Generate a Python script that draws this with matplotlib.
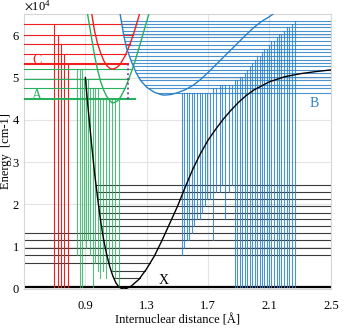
import numpy as np
import matplotlib.pyplot as plt

plt.rcParams['font.family'] = ['Liberation Serif', 'DejaVu Serif']
plt.rcParams['mathtext.fontset'] = 'stix'

# potential curves (r in Angstrom, E in cm-1)
x_r = [0.90, 0.92, 0.94, 0.96, 0.98, 1.00, 1.02, 1.04, 1.06, 1.08, 1.10, 1.12, 1.14, 1.15,
       1.17, 1.20, 1.25, 1.30, 1.35, 1.40, 1.45, 1.50, 1.55, 1.60, 1.65, 1.70, 1.75, 1.80,
       1.85, 1.90, 1.95, 2.00, 2.10, 2.20, 2.30, 2.40, 2.50]
x_E = [50000, 42000, 34500, 27500, 21500, 16000, 11500, 8000, 5200, 3000, 1400, 450, 50, 0,
       150, 700, 2300, 4800, 7800, 11500, 15500, 19500, 24000, 28300, 32000, 35200, 37800, 40200,
       42300, 44200, 45800, 47100, 49000, 50200, 50900, 51400, 51800]

a_r = [0.910, 0.94, 0.96, 0.98, 1.00, 1.02, 1.04, 1.06, 1.075, 1.09, 1.11, 1.13, 1.16, 1.19,
       1.22, 1.25, 1.28, 1.31, 1.32]
a_E = [66000, 59500, 55200, 51800, 49000, 47000, 45500, 44500, 44000, 44100, 44500, 45400,
       47500, 50300, 53400, 57000, 60800, 64500, 65800]

c_r = [0.940, 0.96, 0.98, 1.00, 1.02, 1.04, 1.06, 1.075, 1.09, 1.11, 1.13, 1.16, 1.19, 1.22,
       1.245, 1.255]
c_E = [65500, 61000, 58000, 55800, 54000, 52800, 52150, 52000, 52100, 52500, 53300, 55200,
       57800, 61000, 64000, 65300]

b_r = [1.12, 1.13, 1.15, 1.17, 1.20, 1.23, 1.26, 1.30, 1.35, 1.40, 1.42, 1.46, 1.50, 1.55,
       1.60, 1.65, 1.70, 1.75, 1.80, 1.85, 1.90, 1.95, 2.00, 2.05, 2.10, 2.13]
b_E = [66500, 64300, 60000, 56800, 53800, 51200, 49300, 47700, 46500, 45900, 45850, 46000,
       46400, 47100, 48100, 49500, 51200, 53000, 54800, 56600, 58400, 60200, 61900, 63300,
       64400, 65200]

# vibrational levels
x_levels = [540, 2530, 4320, 6210, 8030, 9800, 11500, 13350, 15000, 16580, 18070, 19660,
            21190, 22840, 24570]
x_span = ['full', 'well', 'well', 'left', 'full', 'full', 'full', 'full',
          'right', 'right', 'right', 'right', 'right', 'right', 'right']
a_levels = [44960, 47410, 49610, 51900]
c_levels = [53150, 55680, 58040, 60000, 62770]
b_levels = [46230, 47410, 48190, 49370, 50150, 50960, 51730, 52680, 53460, 54260, 55040,
            56060, 56860, 57810, 58660, 59600, 60410, 61020, 61970, 62770, 63380]

# transitions: r position, upper level index, lower X level index
c_drop_r = [0.787, 0.764, 0.741, 0.725, 0.699]
a_drop_r = [0.849, 0.863, 0.878, 0.889, 0.904, 0.917, 0.932, 0.947, 0.960, 0.980, 0.998,
            1.015, 1.037, 1.052, 1.074, 1.091, 1.117]
a_drop_up = [3, 3, 3, 2, 2, 2, 1, 1, 1, 1, 0, 0, 0, 0, 0, 0, 0]
a_drop_lo = [4, 0, 0, 6, 5, 6, 4, 0, 3, 2, 1, 2, 1, 3, 2, 1, 0]
b_drop_r = [1.527, 1.546, 1.560, 1.574, 1.592, 1.607, 1.625, 1.644, 1.662, 1.679, 1.695,
            1.712, 1.734, 1.753, 1.775, 1.793, 1.810, 1.836, 1.853,
            1.875, 1.891, 1.908, 1.924, 1.941, 1.956, 1.973, 1.989, 2.006, 2.020, 2.037,
            2.049, 2.064, 2.082, 2.097, 2.113, 2.130, 2.147, 2.162, 2.178, 2.195, 2.212,
            2.230, 2.247, 2.266]
b_drop_up = [0] * 12 + [1, 1, 2, 2, 2, 2, 2,
             3, 3, 4, 4, 5, 6, 7, 8, 9, 10, 10, 11, 12, 12, 13, 14, 14, 15, 16, 16, 17, 18,
             18, 19, 20]
b_drop_lo = [4, 5, 6, 6, 7, 8, 9, 9, 10, 11, 12, 12, 6, 13, 13, 14, 9, 13, 14] + [0] * 25

red = '#f01e1e'
green = '#27b05e'
blue = '#2a80c8'


def turning(r, E, level):
    r = np.asarray(r)
    E = np.asarray(E)
    i = np.argmin(E)
    left = np.interp(level, E[:i + 1][::-1], r[:i + 1][::-1])
    right = np.interp(level, E[i:], r[i:])
    return left, right


fig = plt.figure(figsize=(3.52, 3.28), dpi=100)
ax = fig.add_axes([0.068, 0.119, 0.872, 0.838])
xmin, xmax = 0.5, 2.5
ax.set_xlim(xmin, xmax)
ax.set_ylim(0, 65000)

# X levels
for k, e in enumerate(x_levels):
    lt, rt = turning(x_r, x_E, e)
    span = x_span[k]
    if span == 'full':
        x0, x1 = xmin, xmax
    elif span == 'well':
        x0, x1 = lt, rt
    elif span == 'left':
        x0, x1 = xmin, rt
    else:
        x0, x1 = lt, xmax
    if k == 0:
        ax.plot([x0, x1], [e, e], color='black', lw=1.6, zorder=2)
    else:
        ax.plot([x0, x1], [e, e], color='#3a3a3a', lw=0.8, zorder=2)

# C levels and drops
for k, e in enumerate(c_levels):
    lt, rt = turning(c_r, c_E, e)
    x1 = 1.178 if k == 0 else rt
    ax.plot([xmin, x1], [e, e], color=red, lw=1.5 if k == 0 else 0.8, zorder=3)
    ax.plot([c_drop_r[k], c_drop_r[k]], [e, x_levels[0]], color=red, lw=0.8, zorder=3)

# A levels and drops
for k, e in enumerate(a_levels):
    lt, rt = turning(a_r, a_E, e)
    x1 = 1.226 if k == 0 else rt
    ax.plot([xmin, x1], [e, e], color=green, lw=1.5 if k == 0 else 0.8, zorder=3)
for r, up, lo in zip(a_drop_r, a_drop_up, a_drop_lo):
    ax.plot([r, r], [a_levels[up], x_levels[lo]], color=green, lw=0.8, alpha=0.8, zorder=3)

# B levels and drops
for e in b_levels:
    lt, rt = turning(b_r, b_E, e)
    ax.plot([lt, xmax], [e, e], color=blue, lw=0.8, alpha=0.85, zorder=3)
for r, up, lo in zip(b_drop_r, b_drop_up, b_drop_lo):
    ax.plot([r, r], [b_levels[up], x_levels[lo]], color=blue, lw=0.8, alpha=0.85, zorder=3)

# potential curves
ax.plot(x_r, x_E, color='black', lw=1.0, zorder=5)
ax.plot(a_r, a_E, color=green, lw=1.0, zorder=5)
ax.plot(c_r, c_E, color=red, lw=1.0, zorder=5)
ax.plot(b_r, b_E, color=blue, lw=1.0, zorder=5)

# C(0) -> A(0) gap
ax.plot([1.178, 1.178], [a_levels[0], c_levels[0]], color='#7a35a8', lw=1.3, ls=':', zorder=6)

ax.text(0.584, 54100, 'C', color=red, fontsize=10, ha='center', va='center')
ax.text(0.584, 45830, 'A', color=green, fontsize=10, ha='center', va='center')
ax.text(2.391, 43870, 'B', color=blue, fontsize=10, ha='center', va='center')
ax.text(1.41, 1890, 'X', color='black', fontsize=10, ha='center', va='center')

ax.set_xticks([0.9, 1.3, 1.7, 2.1, 2.5])
ax.set_yticks([0, 10000, 20000, 30000, 40000, 50000, 60000])
ax.ticklabel_format(axis='y', style='sci', scilimits=(4, 4), useMathText=True)
ax.tick_params(length=0, labelsize=9, pad=3)
ax.tick_params(axis='x', pad=8)
ax.yaxis.get_offset_text().set_fontsize(9)
ax.grid(color='#e4e4e4', lw=0.8)
ax.set_axisbelow(True)
for s in ax.spines.values():
    s.set_color('#d6d6d6')
    s.set_linewidth(0.8)
ax.set_xlabel('Internuclear distance [Å]', fontsize=9)
ax.set_ylabel('Energy  [cm-1]', fontsize=9)
ax.xaxis.set_label_coords(0.5, -0.093)
ax.yaxis.set_label_coords(-0.038, 0.5)

fig.savefig('out.png', dpi=100)
